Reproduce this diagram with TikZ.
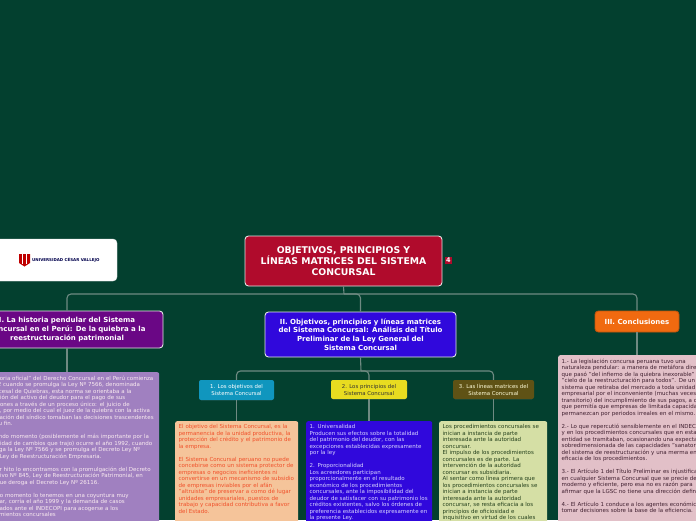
\documentclass[tikz,border=0pt]{standalone}
\usepackage{xcolor}
\usepackage{fontspec}
\setmainfont{DejaVu Sans}
\usetikzlibrary{shapes,arrows,positioning}
\definecolor{bgmap}{HTML}{03402F}
\definecolor{linkcol}{HTML}{6F8A82}
\definecolor{rootred}{HTML}{B00B2C}
\definecolor{histpurple}{HTML}{6A0785}
\definecolor{mainblue}{HTML}{3008DC}
\definecolor{concorange}{HTML}{F06A10}
\definecolor{subcyan}{HTML}{1096BE}
\definecolor{subyellow}{HTML}{E8DC20}
\definecolor{subolive}{HTML}{5F5215}
\definecolor{notepurple}{HTML}{A080C0}
\definecolor{noteorange}{HTML}{F5C49A}
\definecolor{orangetext}{HTML}{F0502A}
\definecolor{notegreen}{HTML}{D5DFA5}
\definecolor{greentext}{HTML}{24401C}
\definecolor{notepink}{HTML}{E2C0C8}
\definecolor{pinktext}{HTML}{402030}
\definecolor{bluetext}{HTML}{D8D4FF}
\tikzset{
  link/.style={draw=linkcol, line width=1.1pt, rounded corners=4pt},
  topic/.style={draw=white!80!gray, line width=0.9pt, rounded corners=3.5pt, align=center, text=white, font=\bfseries\fontsize{7}{8.7}\selectfont, inner sep=0pt},
  subtopic/.style={rounded corners=2pt, align=center, font=\fontsize{5.4}{7}\selectfont, inner sep=0pt,
    path picture={\draw[black!55, line width=1pt] (path picture bounding box.south west) -- (path picture bounding box.south east);}},
  note/.style={rounded corners=2pt, anchor=north west, align=left, font=\fontsize{5.5}{6.5}\selectfont, inner xsep=3.5pt, inner ysep=3.5pt}
}
\begin{document}
\begin{tikzpicture}[x=1pt,y=-1pt]
    \fill[bgmap] (0,0) rectangle (696,520);
    \path[use as bounding box, clip] (0,0) rectangle (696,520);

    \coordinate (hub) at (344,294);
    \coordinate (subhub) at (361,371);

    \node[topic, fill=rootred, minimum width=197pt, minimum height=50pt, font=\bfseries\fontsize{9.3}{11}\selectfont] (root) at (343.5,261) {OBJETIVOS, PRINCIPIOS Y\\ LÍNEAS MATRICES DEL SISTEMA\\ CONCURSAL};
    \node[fill=rootred, text=white, inner sep=0pt, minimum size=7pt, font=\bfseries\fontsize{6.5}{6.5}\selectfont] (badge) at (448.5,260.5) {4};

    \node[fill=white, rounded corners=4pt, draw=white!85!gray, minimum width=140pt, minimum height=42pt] (logo) at (47,260) {};
    \fill[red!75!black] (19,254) -- (30,254) -- (30,263) -- (24.5,266.5) -- (19,263) -- cycle;
    \draw[white, line width=0.6pt] (22.5,254) -- (22.5,264) (26.5,254) -- (26.5,264);
    \node[text=blue!30!black, anchor=west, inner sep=0pt, font=\bfseries\fontsize{4}{4}\selectfont] (logotext) at (32,260.5) {UNIVERSIDAD CÉSAR VALLEJO};

    \node[topic, fill=histpurple, minimum width=192pt, minimum height=37pt] (historia) at (67,329.5) {I. La historia pendular del Sistema\\ Concursal en el Perú: De la quiebra a la\\ reestructuración patrimonial};
    \node[topic, fill=mainblue, minimum width=191pt, minimum height=45pt] (analisis) at (360.5,334.5) {II. Objetivos, principios y líneas matrices\\ del Sistema Concursal: Análisis del Título\\ Preliminar de la Ley General del\\ Sistema Concursal};
    \node[topic, fill=concorange, draw=concorange!80!black, minimum width=84pt, minimum height=21pt] (conclusiones) at (637,321.5) {III. Conclusiones};

    \node[subtopic, fill=subcyan, text=white, minimum width=75pt, minimum height=20pt] (objetivos) at (236.5,390) {1. Los objetivos del\\ Sistema Concursal};
    \node[subtopic, fill=subyellow, text=black!80, minimum width=76pt, minimum height=19pt] (principios) at (369,389.5) {2. Los principios del\\ Sistema Concursal};
    \node[subtopic, fill=subolive, text=white!85!yellow, minimum width=81pt, minimum height=19pt] (lineas) at (493.5,389.5) {3. Las líneas matrices del\\ Sistema Concursal};

    \node[note, fill=notepurple, text=white!92!purple, text width=177pt] (notahistoria) at (-25,372) {La "historia oficial" del Derecho Concursal en el Perú comienza\\ en 1932 cuando se promulga la Ley Nº 7566, denominada\\ Ley Procesal de Quiebras, esta norma se orientaba a la\\ liquidación del activo del deudor para el pago de sus\\ obligaciones a través de un proceso único: el juicio de\\ quiebra, por medio del cual el juez de la quiebra con la activa\\ participación del síndico tomaban las decisiones trascendentes\\ hasta su fin.\\[6.5pt] El segundo momento (posiblemente el más importante por la\\ profundidad de cambios que trajo) ocurre el año 1992, cuando\\ se deroga la Ley Nº 7566 y se promulga el Decreto Ley Nº\\ 26116, Ley de Reestructuración Empresaria.\\[6.5pt] El tercer hito lo encontramos con la promulgación del Decreto\\ Legislativo Nº 845, Ley de Reestructuración Patrimonial, en\\ 1996, que deroga el Decreto Ley Nº 26116.\\[6.5pt] El cuarto momento lo tenemos en una coyuntura muy\\ particular, corría el año 1999 y la demanda de casos\\ presentados ante el INDECOPI para acogerse a los\\ procedimientos concursales\\[40pt]\mbox{}};

    \node[note, fill=noteorange, text=orangetext, text width=116pt] (notaobjetivos) at (175,421) {El objetivo del Sistema Concursal, es la\\ permanencia de la unidad productiva, la\\ protección del crédito y el patrimonio de\\ la empresa.\\[6.5pt] El Sistema Concursal peruano no puede\\ concebirse como un sistema protector de\\ empresas o negocios ineficientes ni\\ convertirse en un mecanismo de subsidio\\ de empresas inviables por el afán\\ "altruista" de preservar a como dé lugar\\ unidades empresariales, puestos de\\ trabajo y capacidad contributiva a favor\\ del Estado.\\[40pt]\mbox{}};

    \node[note, fill=mainblue, text=bluetext, text width=119pt] (notaprincipios) at (306,421) {1. Universalidad\\ Producen sus efectos sobre la totalidad\\ del patrimonio del deudor, con las\\ excepciones establecidas expresamente\\ por la ley\\[6.5pt] 2. Proporcionalidad\\ Los acreedores participan\\ proporcionalmente en el resultado\\ económico de los procedimientos\\ concursales, ante la imposibilidad del\\ deudor de satisfacer con su patrimonio los\\ créditos existentes, salvo los órdenes de\\ preferencia establecidos expresamente en\\ la presente Ley.\\[40pt]\mbox{}};

    \node[note, fill=notegreen, text=greentext, text width=101pt] (notalineas) at (439,421) {Los procedimientos concursales se\\ inician a instancia de parte\\ interesada ante la autoridad\\ concursar.\\ El impulso de los procedimientos\\ concursales es de parte. La\\ intervención de la autoridad\\ concursar es subsidiaria.\\ Al sentar como línea primera que\\ los procedimientos concursales se\\ inician a instancia de parte\\ interesada ante la autoridad\\ concursar, se resta eficacia a los\\ principios de oficiosidad e\\ inquisitivo en virtud de los cuales\\[40pt]\mbox{}};

    \node[note, fill=notepink, text=pinktext, text width=160pt] (notaconclusiones) at (558,355) {1.- La legislación concursa peruana tuvo una\\ naturaleza pendular: a manera de metáfora diremos\\ que pasó "del infierno de la quiebra inexorable" al\\ "cielo de la reestructuración para todos". De un\\ sistema que retiraba del mercado a toda unidad\\ empresarial por el inconveniente (muchas veces\\ transitorio) del incumplimiento de sus pagos, a otro\\ que permitía que empresas de limitada capacidad\\ permanezcan por periodos irreales en el mismo.\\[6.5pt] 2.- Lo que repercutió sensiblemente en el INDECOPI\\ y en los procedimientos concursales que en esta\\ entidad se tramitaban, ocasionando una expectativa\\ sobredimensionada de las capacidades "sanatorias"\\ del sistema de reestructuración y una merma en la\\ eficacia de los procedimientos.\\[6.5pt] 3.- El Artículo 1 del Título Preliminar es injustificable\\ en cualquier Sistema Concursal que se precie de\\ moderno y eficiente, pero esa no es razón para\\ afirmar que la LGSC no tiene una dirección definida.\\[6.5pt] 4.- El Artículo 1 conduce a los agentes económicos a\\ tomar decisiones sobre la base de la eficiencia.\\[40pt]\mbox{}};

    \draw[link] (root.south) -- (hub);
    \draw[link] (historia.north) |- (hub) -| (conclusiones.north);
    \draw[link] (hub) -| (analisis.north);
    \draw[link] (analisis.south) -- (subhub);
    \draw[link] (objetivos.north) |- (subhub) -| (lineas.north);
    \draw[link] (subhub) -| (principios.north);
    \draw[link] (historia.south) -- (notahistoria.north -| historia.south);
    \draw[link] (objetivos.south) -- (notaobjetivos.north -| objetivos.south);
    \draw[link] (principios.south) -- (notaprincipios.north -| principios.south);
    \draw[link] (lineas.south) -- (notalineas.north -| lineas.south);
    \draw[link] (conclusiones.south) -- (notaconclusiones.north -| conclusiones.south);
  \end{tikzpicture}
\end{document}
